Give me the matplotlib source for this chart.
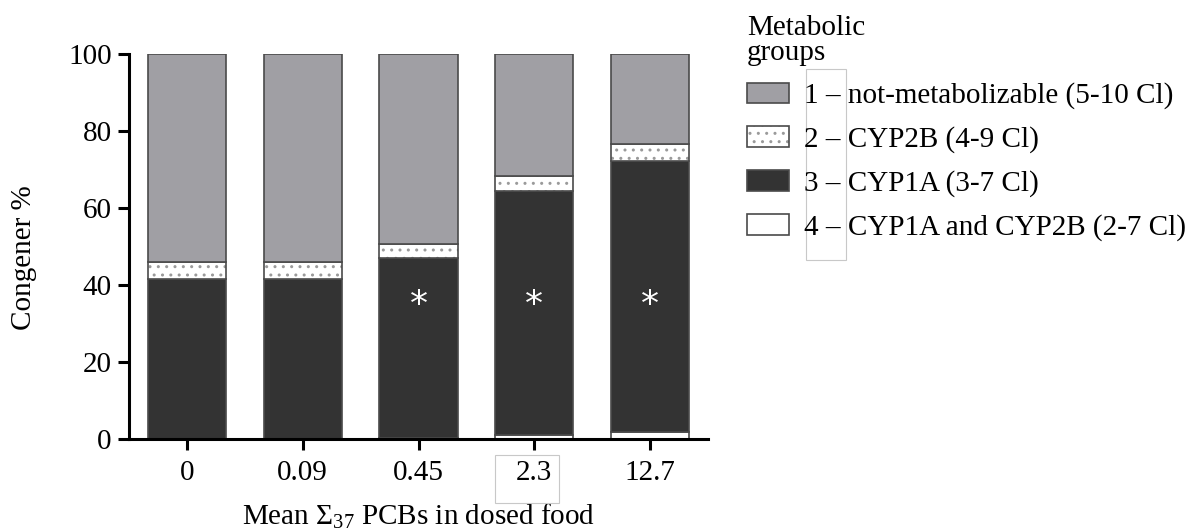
import matplotlib
matplotlib.use("Agg")
import matplotlib.pyplot as plt
from matplotlib.patches import Patch, Rectangle
from matplotlib.legend_handler import HandlerTuple
import numpy as np

plt.rcParams['font.family'] = ['Liberation Serif', 'DejaVu Serif']
plt.rcParams['mathtext.fontset'] = 'custom'
plt.rcParams['mathtext.rm'] = 'Liberation Serif'
plt.rcParams['hatch.linewidth'] = 1.0

# data (percent of congeners per metabolic group)
doses = ['0', '0.09', '0.45', '2.3', '12.7']
group4 = [0.0, 0.0, 0.5, 1.2, 2.0]        # CYP1A and CYP2B
group3 = [41.7, 41.6, 46.6, 63.2, 70.4]   # CYP1A
group2 = [4.3, 4.6, 3.7, 3.9, 4.3]        # CYP2B
group1 = [54.0, 53.8, 49.2, 31.7, 23.3]   # not-metabolizable
significant = [False, False, True, True, True]

labels = ['1 – not-metabolizable (5-10 Cl)',
          '2 – CYP2B (4-9 Cl)',
          '3 – CYP1A (3-7 Cl)',
          '4 – CYP1A and CYP2B (2-7 Cl)']

grey = '#a09fa4'
dark = '#333333'
edge = '#4a4a4a'
fs = 21

fig = plt.figure(figsize=(11.93, 5.29), dpi=100)
ax = fig.add_axes([0.1081, 0.1692, 0.4854, 0.7281])

x = np.arange(len(doses))
w = 0.675
b4 = np.zeros(len(doses))
b3 = b4 + np.array(group4)
b2 = b3 + np.array(group3)
b1 = b2 + np.array(group2)

ax.bar(x, group4, w, bottom=b4, color='white', edgecolor=edge, linewidth=1.2)
ax.bar(x, group3, w, bottom=b3, color=dark, edgecolor=edge, linewidth=1.2)
ax.bar(x, group2, w, bottom=b2, color='white', edgecolor='#9a9a9a', linewidth=0, hatch='..')
ax.bar(x, group2, w, bottom=b2, fill=False, edgecolor=edge, linewidth=1.2)
ax.bar(x, group1, w, bottom=b1, color=grey, edgecolor=edge, linewidth=1.2)

for i, sig in enumerate(significant):
    if sig:
        ax.text(x[i], 35.0, '*', color='white', ha='center', va='center',
                fontsize=26, family='DejaVu Sans')

ax.set_xlim(-0.5, 4.5)
ax.set_ylim(0, 100)
ax.set_xticks(x)
ax.set_xticklabels(doses)
ax.set_yticks([0, 20, 40, 60, 80, 100])
for s in ['top', 'right']:
    ax.spines[s].set_visible(False)
for s in ['left', 'bottom']:
    ax.spines[s].set_linewidth(2.2)
ax.tick_params(axis='both', labelsize=fs, width=2.2, length=8)
ax.tick_params(axis='y', pad=4.5)
ax.tick_params(axis='x', pad=6.5)
ax.set_ylabel('Congener %', fontsize=fs)
ax.yaxis.set_label_coords(-0.158, 0.472)
ax.set_xlabel(r'Mean $\Sigma_{37}$ PCBs in dosed food', fontsize=fs)
ax.xaxis.set_label_coords(0.5, -0.16)

h1 = Patch(facecolor=grey, edgecolor=edge, linewidth=1.2)
h2 = (Patch(facecolor='white', edgecolor='#9a9a9a', linewidth=0, hatch='..'),
      Patch(fill=False, edgecolor=edge, linewidth=1.2))
h3 = Patch(facecolor=dark, edgecolor=edge, linewidth=1.2)
h4 = Patch(facecolor='white', edgecolor=edge, linewidth=1.2)
leg = fig.legend([h1, h2, h3, h4], labels, loc='upper left',
                 bbox_to_anchor=(0.604, 1.022), frameon=False, fontsize=fs,
                 title='Metabolic\ngroups', title_fontsize=fs,
                 alignment='left', handlelength=1.44, handleheight=0.71,
                 handletextpad=0.51, labelspacing=0.58,
                 handler_map={tuple: HandlerTuple(ndivide=1, pad=0)})
leg.get_title().set_linespacing(0.95)

# faint text-box outlines present in the source figure
fig.patches.append(Rectangle((805.7 / 1193, 1 - 260 / 529), 40.3 / 1193, 190.7 / 529,
                             transform=fig.transFigure, fill=False,
                             edgecolor='#c8c8c8', linewidth=0.8))
fig.patches.append(Rectangle((495 / 1193, 1 - 503 / 529), 64 / 1193, 48 / 529,
                             transform=fig.transFigure, fill=False,
                             edgecolor='#c8c8c8', linewidth=0.8))

fig.savefig('out.png', dpi=100)
